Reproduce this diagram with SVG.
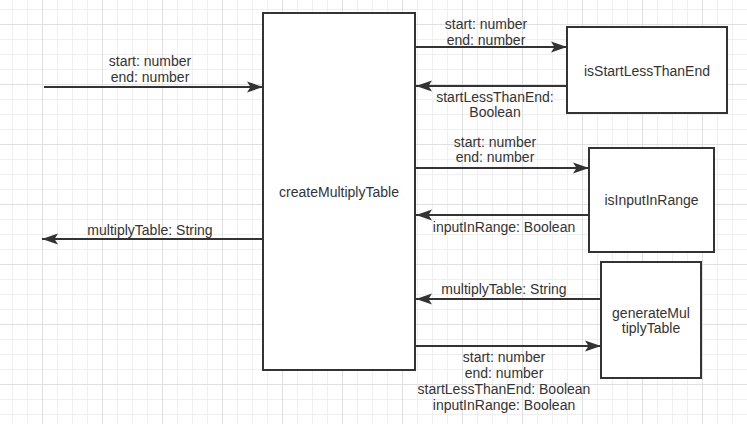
<svg xmlns="http://www.w3.org/2000/svg" width="747" height="424" viewBox="0 0 747 424">
<style>
.box{fill:#fff;stroke:#333;stroke-width:2}
.lbl{font-family:"Liberation Sans",Arial,sans-serif;font-size:14px;fill:#333;text-anchor:middle}
.edge{stroke:#333;stroke-width:2;fill:none}
</style>
<defs>
<pattern id="grid" patternUnits="userSpaceOnUse" x="42" y="24" width="60" height="60">
<path d="M15.5 0V60M30.5 0V60M45.5 0V60M0 15.5H60M0 30.5H60M0 45.5H60" stroke="#efefef" stroke-width="1" fill="none"/>
<path d="M0.5 0V60M0 0.5H60" stroke="#e0e0e0" stroke-width="1" fill="none"/>
</pattern>
<marker id="arr" viewBox="0 0 16 12" refX="16" refY="6" markerWidth="16" markerHeight="12" markerUnits="userSpaceOnUse" orient="auto">
<path d="M0 0.5L16 6L0 11.5L3.5 6Z" fill="#333"/>
</marker>
</defs>
<rect width="747" height="424" fill="#fff"/>
<rect width="747" height="424" fill="url(#grid)"/>
<g id="connectors">
<path class="edge" d="M44 87H263" marker-end="url(#arr)"/>
<path class="edge" d="M263 239H42" marker-end="url(#arr)"/>
<path class="edge" d="M415 47H567" marker-end="url(#arr)"/>
<path class="edge" d="M567 86H416" marker-end="url(#arr)"/>
<path class="edge" d="M415 168H589" marker-end="url(#arr)"/>
<path class="edge" d="M589 215H416" marker-end="url(#arr)"/>
<path class="edge" d="M601 299H416" marker-end="url(#arr)"/>
<path class="edge" d="M415 346H601" marker-end="url(#arr)"/>
<text class="lbl"><tspan x="150" y="66">start: number</tspan><tspan x="150" y="82">end: number</tspan></text>
<text class="lbl" x="150" y="235">multiplyTable: String</text>
<text class="lbl"><tspan x="486" y="29">start: number</tspan><tspan x="486" y="45">end: number</tspan></text>
<text class="lbl"><tspan x="495" y="102">startLessThanEnd:</tspan><tspan x="495" y="117">Boolean</tspan></text>
<text class="lbl"><tspan x="495" y="147">start: number</tspan><tspan x="495" y="162">end: number</tspan></text>
<text class="lbl" x="504" y="232">inputInRange: Boolean</text>
<text class="lbl" x="504" y="294">multiplyTable: String</text>
<text class="lbl"><tspan x="504" y="362">start: number</tspan><tspan x="504" y="378">end: number</tspan><tspan x="504" y="394">startLessThanEnd: Boolean</tspan><tspan x="504" y="410">inputInRange: Boolean</tspan></text>
</g>
<g id="createMultiplyTable">
<rect class="box" x="263" y="13" width="152" height="357"/>
<text class="lbl" x="339" y="197">createMultiplyTable</text>
</g>
<g id="isStartLessThanEnd">
<rect class="box" x="567" y="27" width="160" height="86"/>
<text class="lbl" x="647" y="76">isStartLessThanEnd</text>
</g>
<g id="isInputInRange">
<rect class="box" x="589" y="148" width="125" height="104"/>
<text class="lbl" x="651.5" y="205">isInputInRange</text>
</g>
<g id="generateMultiplyTable">
<rect class="box" x="601" y="262" width="100" height="116"/>
<text class="lbl"><tspan x="651" y="318">generateMul</tspan><tspan x="651" y="333">tiplyTable</tspan></text>
</g>
</svg>
